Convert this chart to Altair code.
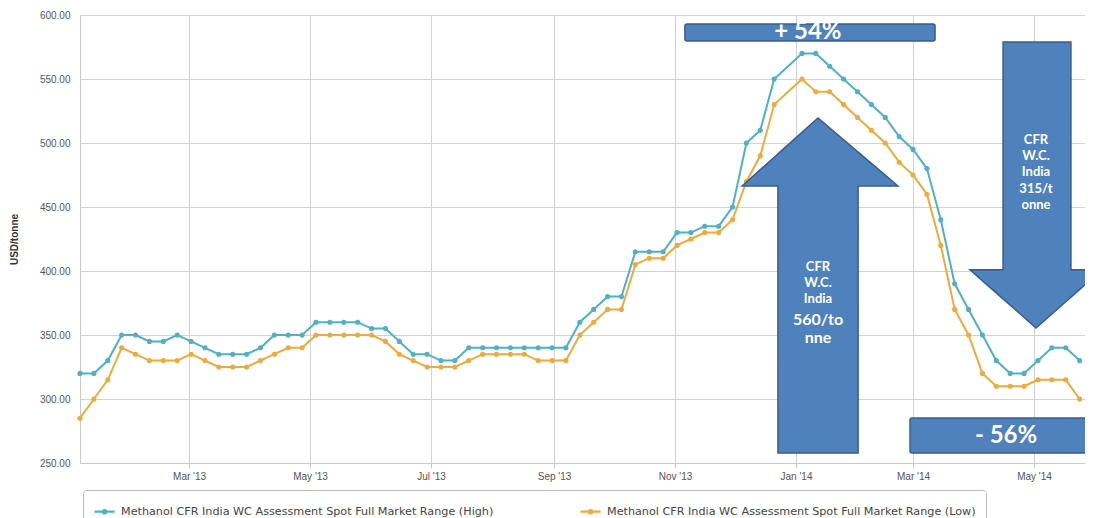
import altair as alt
import pandas as pd

# ---------------- data ----------------
START = "2013-01-05"
N_WEEKS = 73
SERIES_HIGH = "Methanol CFR India WC Assessment Spot Full Market Range (High)"
SERIES_LOW = "Methanol CFR India WC Assessment Spot Full Market Range (Low)"

high = [320, 320, 330, 350, 350, 345, 345, 350, 345, 340,
        335, 335, 335, 340, 350, 350, 350, 360, 360, 360,
        360, 355, 355, 345, 335, 335, 330, 330, 340, 340,
        340, 340, 340, 340, 340, 340, 360, 370, 380, 380,
        415, 415, 415, 430, 430, 435, 435, 450, 500, 510,
        550, None, 570, 570, 560, 550, 540, 530, 520, 505,
        495, 480, 440, 390, 370, 350, 330, 320, 320, 330,
        340, 340, 330]

low = [285, 300, 315, 340, 335, 330, 330, 330, 335, 330,
       325, 325, 325, 330, 335, 340, 340, 350, 350, 350,
       350, 350, 345, 335, 330, 325, 325, 325, 330, 335,
       335, 335, 335, 330, 330, 330, 350, 360, 370, 370,
       405, 410, 410, 420, 425, 430, 430, 440, 470, 490,
       530, None, 550, 540, 540, 530, 520, 510, 500, 485,
       475, 460, 420, 370, 350, 320, 310, 310, 310, 315,
       315, 315, 300]

x_tick_dates = [(2013, 3, 1), (2013, 5, 1), (2013, 7, 1), (2013, 9, 1),
                (2013, 11, 1), (2014, 1, 1), (2014, 3, 1), (2014, 5, 1)]
y_ticks = [250, 300, 350, 400, 450, 500, 550, 600]

# annotation geometry, in (days since START, USD/tonne)
up_arrow = {"left": 333.8, "shaft_left": 351.9, "tip": 372.1, "shaft_right": 392.3,
            "right": 412.4, "base": 466.4, "tip_value": 519.5, "end": 257.8}
down_arrow = {"left": 448.7, "shaft_left": 465.4, "tip": 482.0, "shaft_right": 499.6,
              "right": 515.3, "base": 401.0, "tip_value": 355.5, "end": 578.9}
boxes = [  # day0, day1, v0, v1
    (305.0, 431.1, 579.7, 593.0),
    (418.5, 514.3, 257.8, 285.2),
]
labels = [  # day, value, text, font size
    (367.0, 586.5, "+ 54%", 24),
    (466.9, 271.1, "- 56%", 24),
    (372.1, 403.1, "CFR", 13),
    (372.1, 390.6, "W.C.", 13),
    (372.1, 378.1, "India", 13),
    (372.1, 362.0, "560/to", 16),
    (372.1, 347.5, "nne", 16),
    (482.0, 502.3, "CFR", 13),
    (482.0, 489.8, "W.C.", 13),
    (482.0, 477.3, "India", 13),
    (482.0, 464.1, "315/t", 13),
    (482.0, 451.6, "onne", 13),
]

# ---------------- build tables ----------------
start = pd.Timestamp(START)
dates = pd.date_range(start, periods=N_WEEKS, freq="7D")
rows = []
for d, h, l in zip(dates, high, low):
    if h is not None:
        rows.append({"date": d, "series": SERIES_HIGH, "value": h})
    if l is not None:
        rows.append({"date": d, "series": SERIES_LOW, "value": l})
df = pd.DataFrame(rows)

EPS = 0.01  # tiny day offset so vertical edges sort correctly along x


def day(n):
    return start + pd.Timedelta(days=n)


def arrow_poly(a, pointing_up):
    L, SL, T, SR, R = a["left"], a["shaft_left"], a["tip"], a["shaft_right"], a["right"]
    b, tv, e = a["base"], a["tip_value"], a["end"]
    h1 = b + (SL - L) / (T - L) * (tv - b)
    h2 = b + (R - SR) / (R - T) * (tv - b)
    if pointing_up:
        pts = [(L, b, b), (SL - EPS, h1, b), (SL, h1, e), (T, tv, e),
               (SR, h2, e), (SR + EPS, h2, b), (R, b, b)]
    else:
        pts = [(L, b, b), (SL - EPS, b, h1), (SL, e, h1), (T, e, tv),
               (SR, e, h2), (SR + EPS, b, h2), (R, b, b)]
    return pd.DataFrame([{"d": day(p[0]), "top": p[1], "bot": p[2]} for p in pts])


box_df = pd.DataFrame([{"d0": day(b[0]), "d1": day(b[1]), "v0": b[2], "v1": b[3]} for b in boxes])
lab_df = pd.DataFrame([{"d": day(t[0]), "v": t[1], "t": t[2], "fs": t[3]} for t in labels])

# ---------------- chart ----------------
AX_FONT = "Liberation Sans"
BLUE = "#4F81BD"
BLUE_EDGE = "#385D8A"

xs = alt.Scale(domain=[alt.DateTime(year=2013, month=1, date=5),
                       alt.DateTime(year=2014, month=5, date=26, hours=17)])
ys = alt.Scale(domain=[250, 600], nice=False, zero=False)

xaxis = alt.Axis(values=[alt.DateTime(year=y, month=m, date=dd) for y, m, dd in x_tick_dates],
                 format="%b '%y", labelFont=AX_FONT, labelFontSize=10, labelColor="#555",
                 grid=True, gridColor="#d2d2d2", domainColor="#c8c8c8", tickColor="#c8c8c8",
                 tickSize=5, labelPadding=3, title=None)
yaxis = alt.Axis(values=y_ticks, format=".2f", labelFont=AX_FONT, labelFontSize=10,
                 labelColor="#555", grid=True, gridColor="#d2d2d2", ticks=False,
                 domainColor="#c8c8c8", labelPadding=10, title="USD/tonne",
                 titleFont=AX_FONT, titleFontSize=10, titleFontWeight="bold",
                 titleColor="#333", titlePadding=20)

color_scale = alt.Scale(domain=[SERIES_HIGH, SERIES_LOW], range=["#4FB0C6", "#F2A93B"])
legend = alt.Legend(
    orient="none", legendX=3, legendY=475, direction="horizontal", title=None,
    symbolType="M-1,0L1,0M0.17,0A0.17,0.17,0,1,1,-0.17,0A0.17,0.17,0,1,1,0.17,0",
    symbolSize=400, symbolStrokeWidth=2.2, labelFont="DejaVu Sans", labelFontSize=11.2,
    labelColor="#444", labelLimit=600, labelOffset=5, columnPadding=82,
    strokeColor="#bbbbbb", padding=10, cornerRadius=3, fillColor="white",
)


def X(field, **kw):
    return alt.X(field, scale=xs, axis=xaxis, title=None, **kw)


def Y(field, **kw):
    return alt.Y(field, scale=ys, axis=yaxis, title="USD/tonne", **kw)


base = alt.Chart(df).encode(x=X("date:T"), y=Y("value:Q"))
lines = base.mark_line(strokeWidth=2).encode(
    color=alt.Color("series:N", scale=color_scale, legend=legend))
points = base.mark_point(filled=True, size=26, opacity=1).encode(
    color=alt.Color("series:N", scale=color_scale, legend=legend))


def arrow_layer(poly):
    return alt.Chart(poly).mark_area(
        fill=BLUE, stroke=BLUE_EDGE, strokeWidth=1.5, opacity=1, interpolate="linear",
        clip=False,
    ).encode(x=X("d:T"), y=Y("top:Q"), y2="bot:Q")


box_layer = alt.Chart(box_df).mark_rect(
    fill=BLUE, stroke=BLUE_EDGE, strokeWidth=1.5, cornerRadius=2, clip=False
).encode(x=X("d0:T"), x2="d1:T", y=Y("v0:Q"), y2="v1:Q")

text_layer = alt.Chart(lab_df).mark_text(
    font="Lato", fontWeight="bold", color="white", align="center", baseline="middle"
).encode(
    x=X("d:T"), y=Y("v:Q"), text="t:N",
    size=alt.Size("fs:Q", scale=None),
)

chart = alt.layer(
    lines, points,
    arrow_layer(arrow_poly(up_arrow, True)), arrow_layer(arrow_poly(down_arrow, False)),
    box_layer, text_layer,
).properties(
    width=1005, height=448,
    padding={"left": 72, "top": 7, "right": 0, "bottom": 55},
    autosize=alt.AutoSizeParams(type="none"),
).configure_view(stroke="#c8c8c8")

chart.save("out.html", embed_options={"renderer": "svg", "actions": False})
